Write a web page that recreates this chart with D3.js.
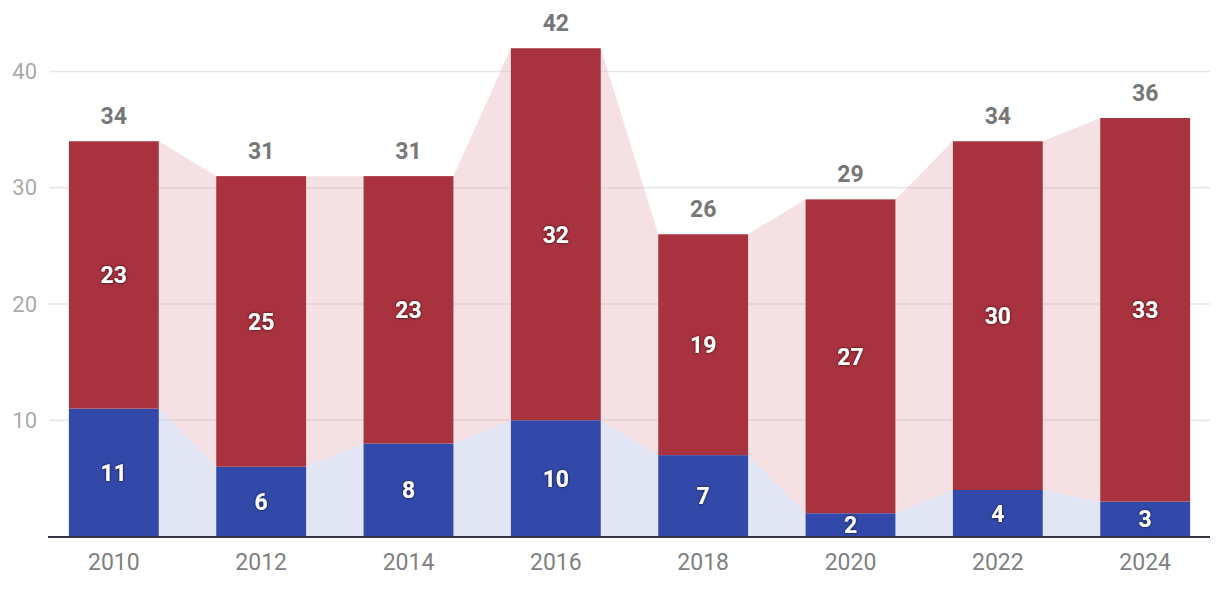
<!DOCTYPE html>
<html>
<head>
<meta charset="utf-8">
<script src="https://cdn.jsdelivr.net/npm/d3@7"></script>
<style>
  body { margin: 0; background: white; font-family: Roboto, "Noto Sans", sans-serif; }
  svg { display: block; }
</style>
</head>
<body>
<div id="chart"></div>
<script>
var years = ['2010', '2012', '2014', '2016', '2018', '2020', '2022', '2024'];
var blueValues = [11, 6, 8, 10, 7, 2, 4, 3];
var redValues = [23, 25, 23, 32, 19, 27, 30, 33];
var yTicks = [10, 20, 30, 40];

var colors = {
  red: '#a9323f',
  blue: '#3349a9',
  redBand: 'rgba(225, 170, 178, 0.35)',
  blueBand: 'rgba(180, 190, 228, 0.4)'
};

function drawChart() {
  var width = 1220, height = 592;
  var svg = d3.select('#chart').append('svg')
    .attr('width', width)
    .attr('height', height);

  var defs = svg.append('defs');
  defs.append('filter').attr('id', 'shadow')
    .attr('x', '-30%').attr('y', '-30%').attr('width', '160%').attr('height', '160%')
    .append('feDropShadow')
    .attr('dx', 0).attr('dy', 0).attr('stdDeviation', 1.6)
    .attr('flood-color', '#000').attr('flood-opacity', 0.75);

  var rows = years.map(function(y, i) {
    return { year: y, blue: blueValues[i], red: redValues[i], total: blueValues[i] + redValues[i] };
  });

  var x = d3.scaleBand()
    .domain(years)
    .range([49, 1210])
    .paddingInner(0.39)
    .paddingOuter(0.135);

  var y = d3.scaleLinear()
    .domain([0, 40])
    .range([536.5, 71.5]);

  // gridlines
  var grid = svg.append('g');
  grid.selectAll('line')
    .data(yTicks)
    .enter().append('line')
    .attr('x1', 49).attr('x2', 1210)
    .attr('y1', function(d) { return y(d); })
    .attr('y2', function(d) { return y(d); })
    .attr('stroke', '#e6e6e6')
    .attr('stroke-width', 1.5);

  grid.selectAll('text')
    .data(yTicks)
    .enter().append('text')
    .attr('x', 37)
    .attr('y', function(d) { return y(d); })
    .attr('dy', '0.35em')
    .attr('text-anchor', 'end')
    .attr('fill', '#aaaaaa')
    .style('font-size', '22px')
    .text(function(d) { return d; });

  // connecting bands between bars
  var bands = svg.append('g');
  for (var i = 0; i < rows.length - 1; i++) {
    var a = rows[i], b = rows[i + 1];
    var x0 = x(a.year) + x.bandwidth();
    var x1 = x(b.year);
    bands.append('path')
      .attr('d', 'M' + x0 + ',' + y(a.total) + 'L' + x1 + ',' + y(b.total) +
        'L' + x1 + ',' + y(b.blue) + 'L' + x0 + ',' + y(a.blue) + 'Z')
      .attr('fill', colors.redBand);
    bands.append('path')
      .attr('d', 'M' + x0 + ',' + y(a.blue) + 'L' + x1 + ',' + y(b.blue) +
        'L' + x1 + ',' + y(0) + 'L' + x0 + ',' + y(0) + 'Z')
      .attr('fill', colors.blueBand);
  }

  // bars
  var bars = svg.append('g');
  bars.selectAll('.blue')
    .data(rows)
    .enter().append('rect')
    .attr('class', 'blue')
    .attr('x', function(d) { return x(d.year); })
    .attr('width', x.bandwidth())
    .attr('y', function(d) { return y(d.blue); })
    .attr('height', function(d) { return y(0) - y(d.blue); })
    .attr('fill', colors.blue);

  bars.selectAll('.red')
    .data(rows)
    .enter().append('rect')
    .attr('class', 'red')
    .attr('x', function(d) { return x(d.year); })
    .attr('width', x.bandwidth())
    .attr('y', function(d) { return y(d.total); })
    .attr('height', function(d) { return y(d.blue) - y(d.total); })
    .attr('fill', colors.red);

  // baseline
  svg.append('line')
    .attr('x1', 48).attr('x2', 1210)
    .attr('y1', y(0) + 0.5).attr('y2', y(0) + 0.5)
    .attr('stroke', '#333640')
    .attr('stroke-width', 2);

  // labels inside segments
  var labels = svg.append('g')
    .attr('text-anchor', 'middle')
    .attr('fill', 'white')
    .style('font-size', '23px')
    .style('font-weight', 'bold')
    .attr('filter', 'url(#shadow)');

  labels.selectAll('.lb')
    .data(rows)
    .enter().append('text')
    .attr('x', function(d) { return x(d.year) + x.bandwidth() / 2; })
    .attr('y', function(d) { return (y(0) + y(d.blue)) / 2; })
    .attr('dy', '0.36em')
    .text(function(d) { return d.blue; });

  labels.selectAll('.lr')
    .data(rows)
    .enter().append('text')
    .attr('x', function(d) { return x(d.year) + x.bandwidth() / 2; })
    .attr('y', function(d) { return (y(d.blue) + y(d.total)) / 2; })
    .attr('dy', '0.36em')
    .text(function(d) { return d.red; });

  // totals
  svg.append('g').selectAll('text')
    .data(rows)
    .enter().append('text')
    .attr('x', function(d) { return x(d.year) + x.bandwidth() / 2; })
    .attr('y', function(d) { return y(d.total) - 17; })
    .attr('text-anchor', 'middle')
    .attr('fill', '#777777')
    .style('font-size', '23px')
    .style('font-weight', 'bold')
    .text(function(d) { return d.total; });

  // x axis labels
  svg.append('g').selectAll('text')
    .data(years)
    .enter().append('text')
    .attr('x', function(d) { return x(d) + x.bandwidth() / 2; })
    .attr('y', 570)
    .attr('text-anchor', 'middle')
    .attr('fill', '#808080')
    .style('font-size', '23px')
    .text(function(d) { return d; });
}

drawChart();
</script>
</body>
</html>
